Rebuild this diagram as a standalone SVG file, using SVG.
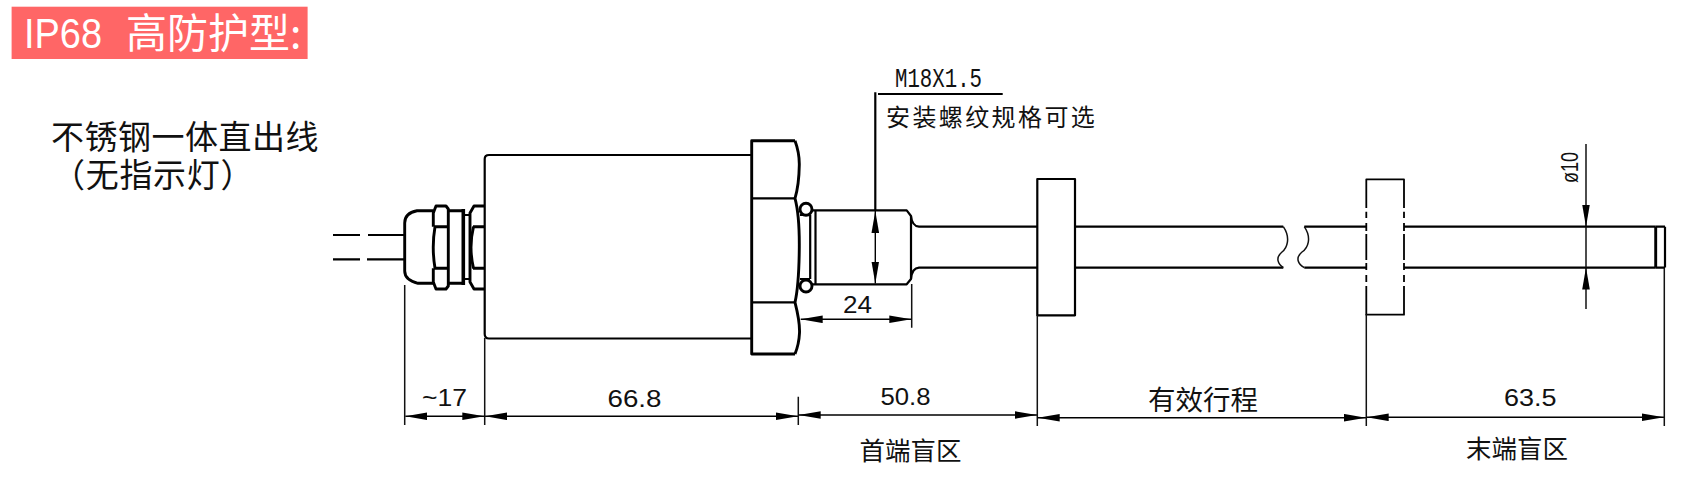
<svg xmlns="http://www.w3.org/2000/svg" width="1703" height="480" viewBox="0 0 1703 480">
<style>
.cjk{font-family:"Noto Sans CJK SC","Noto Sans CJK JP",sans-serif;fill:#111}
.num{font-family:"Liberation Sans",Arial,sans-serif;fill:#111}
.mono{font-family:"Liberation Mono","DejaVu Sans Mono",monospace;fill:#111}
.part{fill:none;stroke:#000;stroke-width:2.2;stroke-linejoin:round}
.thick{fill:none;stroke:#000;stroke-width:2.9;stroke-linejoin:round}
.thin{fill:none;stroke:#111;stroke-width:1.5}
.dim{fill:none;stroke:#000;stroke-width:1.4;marker-start:url(#arrow);marker-end:url(#arrow)}
.end{fill:none;stroke:#000;stroke-width:1.4;marker-end:url(#arrow)}
</style>
<defs>
<marker id="arrow" markerUnits="userSpaceOnUse" markerWidth="23" markerHeight="9" refX="22" refY="4" orient="auto-start-reverse">
<path d="M0 .2L22 4L0 7.8Z" fill="#000"/>
</marker>
</defs>
<rect width="1703" height="480" fill="#fff"/>
<g id="title">
<rect x="11.6" y="6.7" width="296" height="52.3" fill="#ff6666"/>
<text class="num" x="24" y="47.7" font-size="43" textLength="78" lengthAdjust="spacingAndGlyphs" style="fill:#fff">IP68</text>
<text class="cjk" x="126" y="48" font-size="41" style="fill:#fff">高防护型:</text>
</g>
<g id="note">
<text class="cjk" x="51" y="148.5" font-size="33" letter-spacing=".5">不锈钢一体直出线</text>
<text class="cjk" x="52" y="186.5" font-size="33" letter-spacing=".7">（无指示灯）</text>
</g>
<g id="cable">
<path class="part" d="M333 235H360M368 235H404M333 259.3H360M367 259.3H404"/>
</g>
<g id="gland">
<path class="thick" d="M433.3 210.7H417Q404.7 213 404.7 223V271Q404.7 280 418 283.3H433.3"/>
<path class="thick" d="M433.3 226.7V213L436 206H446L448.3 209V286L446 289H436L433.3 282V268.3"/>
<path class="thick" d="M434 226.7H448M434 268.3H448M435 226.7Q431.5 247 435 268.3"/>
<path class="thick" d="M448.3 210.7H463.3M448.3 283.3H463.3"/>
<path fill="none" stroke="#000" stroke-width="3.6" d="M463.3 209V285"/>
<path class="part" d="M463.5 215H470M463.5 279H470"/>
<path class="thick" d="M484.7 206H474L470 213V282L474 289H484.7"/>
<path class="thick" d="M473 226.7H484M473 268.3H484M473.5 226.7Q468.5 247 473.5 268.3"/>
</g>
<g id="body">
<path class="part" d="M751.7 155H489Q484.7 155 484.7 159V334Q484.7 338.5 489 338.5H751.7"/>
</g>
<g id="hex-nut">
<path class="thick" d="M795 140.7H751.7V354H795"/>
<path class="part" d="M751.7 198.3H795M751.7 302.3H795"/>
<path class="thick" d="M795 140.7Q799.5 153 799.3 165Q799 185 795 198.3Q799.5 215 799.3 247Q799 285 795 302.3Q800 322 799.5 333Q799 344 795 354"/>
</g>
<g id="thread">
<path class="part" d="M810.2 215V279M815.5 210.3V284.3"/>
<path class="part" d="M800 215H810M800 279H810"/>
<circle cx="806" cy="209.3" r="6" fill="#fff" stroke="#000" stroke-width="2.9"/>
<circle cx="806" cy="286" r="6" fill="#fff" stroke="#000" stroke-width="2.9"/>
<path class="part" d="M812 210.3H906.7L911 216V279L906.7 284.3H812"/>
<path class="part" d="M911 216Q912 226 919 226.7H1037M911 279Q912 268 919 267.7H1037"/>
</g>
<g id="rod">
<path class="part" d="M1075 226.7H1283.3M1075 267.6H1283.3M1304.3 226.7H1366M1304.3 267.6H1366M1404 226.7H1655.7M1404 267.6H1655.7"/>
<path class="thin" d="M1283.3 226.7C1291 238 1287 248 1282 252C1275 258 1278 264 1283.3 267.6M1304.3 226.7C1312 238 1308 248 1302 252C1295 258 1298 264 1304.3 267.6"/>
<path class="part" d="M1665 226.7V267.6M1655.7 226.7H1665M1655.7 267.6H1665"/>
<path class="thick" d="M1655.7 226.7V267.6"/>
</g>
<g id="flange-1">
<rect class="part" x="1037.3" y="179" width="37.7" height="136.3"/>
</g>
<g id="flange-2">
<path class="part" style="stroke-width:1.8" d="M1366.3 208V179.3H1404V208M1366.3 211.7V218M1366.3 223V231M1366.3 234V260M1366.3 263V270M1366.3 275V282M1366.3 286V314.7H1404V286M1404 275V282M1404 263V270M1404 234V260M1404 223V231M1404 211.7V218"/>
</g>
<g id="connectors">
<path class="thin" d="M404.7 285V425M484.7 338V425M798.3 396.7V425M911.7 284V327.7M1037.3 315V426M1366.3 314V426M1664.3 268V426"/>
<path class="part" d="M875.3 92.3V210M878 94H1002.7"/>
<path class="dim" d="M875.3 211V283.5"/>
<path class="dim" d="M800.7 319.3H911.3"/>
<path class="dim" d="M405.4 416.3H484.3"/>
<path class="dim" d="M485.1 416.3H797.9"/>
<path class="dim" d="M798.7 415H1036.9"/>
<path class="dim" d="M1037.7 417.7H1365.9"/>
<path class="dim" d="M1366.7 417.3H1663.9"/>
<path class="end" d="M1586 144V226.7"/>
<path class="end" d="M1586 309V267.6"/>
<path class="thin" d="M1586 226.7V267.6"/>
</g>
<g id="labels">
<text class="mono" x="895" y="87" font-size="28" textLength="87" lengthAdjust="spacingAndGlyphs">M18X1.5</text>
<text class="cjk" x="886" y="126" font-size="24" letter-spacing="2.4">安装螺纹规格可选</text>
<text class="num" x="843" y="313.3" font-size="23" textLength="29" lengthAdjust="spacingAndGlyphs">24</text>
<text class="num" x="422" y="406" font-size="23" textLength="45" lengthAdjust="spacingAndGlyphs">~17</text>
<text class="num" x="607.5" y="407.3" font-size="23" textLength="54" lengthAdjust="spacingAndGlyphs">66.8</text>
<text class="num" x="880.5" y="405" font-size="23" textLength="50" lengthAdjust="spacingAndGlyphs">50.8</text>
<text class="cjk" x="1148" y="410" font-size="27.5">有效行程</text>
<text class="num" x="1504" y="406" font-size="23" textLength="52.5" lengthAdjust="spacingAndGlyphs">63.5</text>
<text class="cjk" x="859.5" y="459.5" font-size="25.5">首端盲区</text>
<text class="cjk" x="1466" y="457.5" font-size="25.5">末端盲区</text>
<text class="num" transform="translate(1578 183) rotate(-90)" font-size="24" textLength="31" lengthAdjust="spacingAndGlyphs">ø10</text>
</g>
</svg>
